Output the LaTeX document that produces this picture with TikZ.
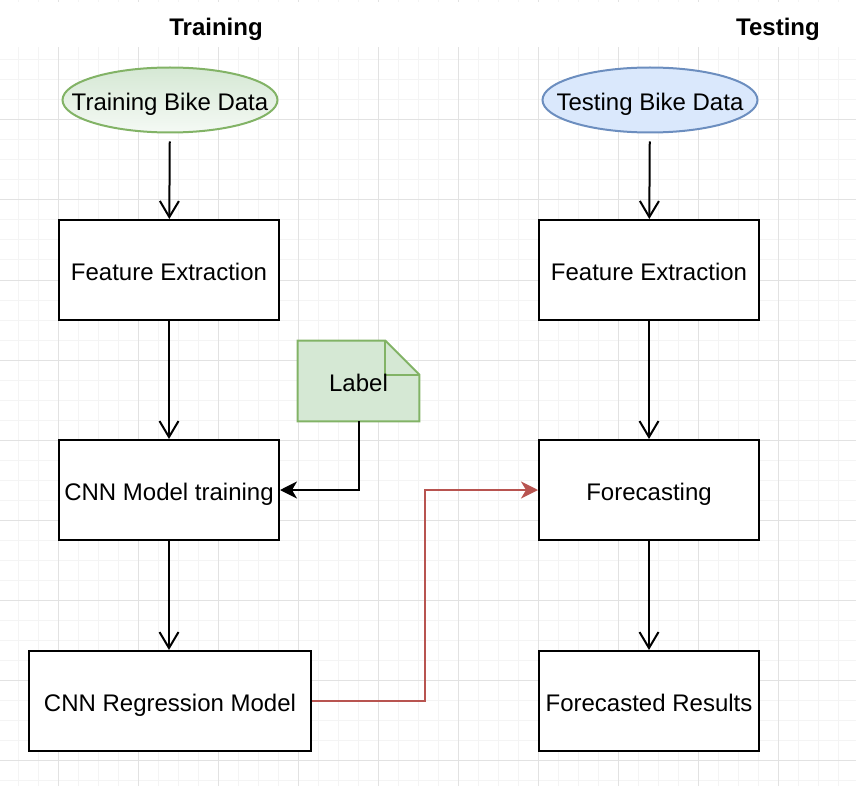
\documentclass[tikz,border=0pt]{standalone}
\usepackage{fontspec}
\setmainfont{Liberation Sans}
\usetikzlibrary{arrows.meta}
\usetikzlibrary{positioning}
\usetikzlibrary{shapes.geometric}
\definecolor{gridminor}{HTML}{F4F4F4}
\definecolor{gridmajor}{HTML}{E2E2E2}
\definecolor{trainfill}{HTML}{D5E8D4}
\definecolor{trainline}{HTML}{82B366}
\definecolor{testfill}{HTML}{DAE8FC}
\definecolor{testline}{HTML}{6C8EBF}
\definecolor{modelline}{HTML}{B85450}
\pgfdeclarelayer{background}
\pgfsetlayers{background,main}
\tikzset {
  flow text/.style = {
    font = \fontsize{12}{14}\selectfont,
    text height = 12pt,
    text depth = 1.3pt
  },
  flow node/.style = {
    flow text,
    draw = black,
    line width = 1pt,
    inner sep = 0pt
  },
  % processing step
  stepbox/.style = {
    flow node,
    rectangle,
    fill = white,
    minimum width = 110pt,
    minimum height = 50pt
  },
  % data source
  source/.style = {
    flow node,
    ellipse,
    minimum width = 107.5pt,
    minimum height = 32.5pt
  },
  % column heading
  heading/.style = {
    flow text,
    font = \fontsize{12}{14}\selectfont\bfseries
  },
  % note sticker
  note/.style = {
    flow text,
    inner sep = 0pt,
    minimum width = 60.5pt,
    minimum height = 40pt
  }
}
\tikzset {
  % path with open arrow
  arr/.style = {
    draw = black,
    line width = 1pt,
    -{Straight Barb[length=8pt,width=9.5pt]}
  },
  % path with filled arrow
  farr/.style = {
    line width = 1pt,
    -{Stealth[length=8.5pt,width=8.5pt,inset=2.5pt]}
  }
}

\begin{document}
\begin{tikzpicture}[x=0.5pt, y=-0.5pt]
  \useasboundingbox (0,0) rectangle (856,786);

  \begin{pgfonlayer}{background}
    \foreach \x in {18,38,...,856}
      \draw[gridminor, line width=0.5pt] (\x,0) -- (\x,786);
    \foreach \y in {0,20,...,786}
      \draw[gridminor, line width=0.5pt] (0,\y) -- (856,\y);
    \foreach \x in {58,138,...,856}
      \draw[gridmajor, line width=0.5pt] (\x,0) -- (\x,786);
    \foreach \y in {40,120,...,786}
      \draw[gridmajor, line width=0.5pt] (0,\y) -- (856,\y);
    \fill[white] (0,2) rectangle (856,47);
  \end{pgfonlayer}

  \node[heading] (trainhead) at (216,25) {Training};
  \node[heading] (testhead) at (778,25) {Testing};

  \node[source, draw=trainline, top color=trainfill, bottom color=trainfill!25]
    (traindata) at (170,100) {\makebox[0pt]{Training Bike Data}};
  \node[source, draw=testline, fill=testfill]
    (testdata) at (650,100) {\makebox[0pt]{Testing Bike Data}};

  \node[stepbox] (trainfeat) at (169,270) {Feature Extraction};
  \node[stepbox] (training) at (169,490) {CNN Model training};
  \node[stepbox, minimum width=141pt] (regmodel) at (170,701) {CNN Regression Model};

  \node[stepbox] (testfeat) at (649,270) {Feature Extraction};
  \node[stepbox] (forecast) at (649,490) {Forecasting};
  \node[stepbox] (results) at (649,701) {Forecasted Results};

  \node[note] (label) at (358.5,381) {Label};
  \begin{pgfonlayer}{background}
    \draw[trainline, fill=trainfill, line width=1pt]
      (label.north west)
      -- ([xshift=-17pt]label.north east)
      -- ([yshift=-17pt]label.north east)
      -- (label.south east)
      -- (label.south west)
      -- cycle;
    \draw[trainline, line width=1pt]
      ([xshift=-17pt]label.north east)
      |- ([yshift=-17pt]label.north east);
  \end{pgfonlayer}

  \coordinate (regmodel-forecast) at (425,701);

  \draw[arr, shorten <=4pt] (traindata) -- (trainfeat);
  \draw[arr] (trainfeat) -- (training);
  \draw[arr] (training.south) -- (training.south |- regmodel.north);

  \draw[arr, shorten <=4pt] (testdata) -- (testfeat);
  \draw[arr] (testfeat) -- (forecast);
  \draw[arr] (forecast) -- (results);

  \draw[farr, draw=black] (label.south) |- (training.east);

  \draw[farr, draw=modelline] (regmodel.east)
    -- (regmodel-forecast)
    |- (forecast.west);
\end{tikzpicture}
\end{document}
